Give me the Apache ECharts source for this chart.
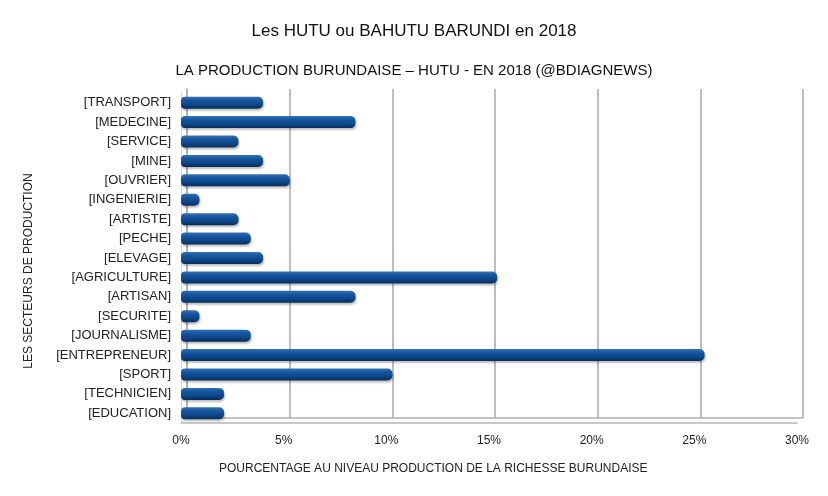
<!DOCTYPE html>
<html><head><meta charset="utf-8">
<script src="https://cdn.jsdelivr.net/npm/echarts@6/dist/echarts.min.js"></script>
<style>html,body{margin:0;padding:0;background:#fff}#c{width:828px;height:496px}</style>
</head><body><div id="c"></div>
<script>
const categories = ['[TRANSPORT]','[MEDECINE]','[SERVICE]','[MINE]','[OUVRIER]','[INGENIERIE]','[ARTISTE]','[PECHE]','[ELEVAGE]','[AGRICULTURE]','[ARTISAN]','[SECURITE]','[JOURNALISME]','[ENTREPRENEUR]','[SPORT]','[TECHNICIEN]','[EDUCATION]'];
const values = [4.0, 8.5, 2.8, 4.0, 5.3, 0.9, 2.8, 3.4, 4.0, 15.4, 8.5, 0.9, 3.4, 25.5, 10.3, 2.1, 2.1];
const xTicks = [0, 5, 10, 15, 20, 25, 30];

const chart = echarts.init(document.getElementById('c'));
const font = 'Liberation Sans, Arial, sans-serif';
const barColor = new echarts.graphic.LinearGradient(0,0,0,1,[
  {offset:0,color:'#3570b2'},{offset:0.3,color:'#1656a0'},{offset:0.7,color:'#0c4585'},{offset:1,color:'#062c58'}]);
chart.setOption({
  animation:false,
  backgroundColor:'#fff',
  title:[
    {text:'Les HUTU ou BAHUTU BARUNDI en 2018', left:'center', top:18, textStyle:{fontFamily:font,fontSize:17,fontWeight:'normal',color:'#111'}},
    {text:'LA PRODUCTION BURUNDAISE – HUTU - EN 2018 (@BDIAGNEWS)', left:'center', top:58, textStyle:{fontFamily:font,fontSize:15,fontWeight:'normal',color:'#111'}},
    {text:'POURCENTAGE AU NIVEAU PRODUCTION DE LA RICHESSE BURUNDAISE', left:214, top:458, textStyle:{fontFamily:font,fontSize:12,fontWeight:'normal',color:'#222'}}
  ],
  graphic:[
    {type:'text', x:29, y:271, rotation:Math.PI/2, style:{text:'LES SECTEURS DE PRODUCTION', font:'12px Liberation Sans, Arial, sans-serif', fill:'#222', textAlign:'center', textVerticalAlign:'middle'}}
  ],
  grid:[
    {left:187, right:25, top:89, bottom:78},
    {left:181, right:31, top:93, bottom:73}
  ],
  xAxis:[
    {gridIndex:0, type:'value', min:xTicks[0], max:xTicks[xTicks.length-1], interval:5,
     axisLabel:{show:false}, axisTick:{show:false},
     axisLine:{show:true, lineStyle:{color:'#b0b0b0', width:1.5}},
     splitLine:{show:true, lineStyle:{color:'#a8a8a8', width:1.5}}},
    {gridIndex:1, type:'value', min:xTicks[0], max:xTicks[xTicks.length-1], interval:5,
     axisLabel:{formatter:'{value}%', fontFamily:font, fontSize:12, color:'#222', margin:12},
     axisTick:{show:false},
     axisLine:{show:true, lineStyle:{color:'#b8b8b8', width:1.5}},
     splitLine:{show:false}}
  ],
  yAxis:[
    {gridIndex:0, type:'category', data:categories, inverse:true,
     axisLabel:{show:false}, axisTick:{show:false},
     axisLine:{show:true, lineStyle:{color:'#b0b0b0', width:1.5}}, splitLine:{show:false}},
    {gridIndex:1, type:'category', data:categories, inverse:true,
     axisLabel:{fontFamily:font, fontSize:13, color:'#222', margin:10},
     axisTick:{show:false},
     axisLine:{show:true, lineStyle:{color:'#d0d0d0', width:1, type:'dotted'}}}
  ],
  series:[{
    type:'bar', xAxisIndex:1, yAxisIndex:1, data:values, barWidth:12,
    itemStyle:{color:barColor, borderRadius:[4,5,5,4], shadowColor:'rgba(0,0,0,0.25)', shadowBlur:2, shadowOffsetX:1, shadowOffsetY:2}
  }]
});
</script></body></html>
